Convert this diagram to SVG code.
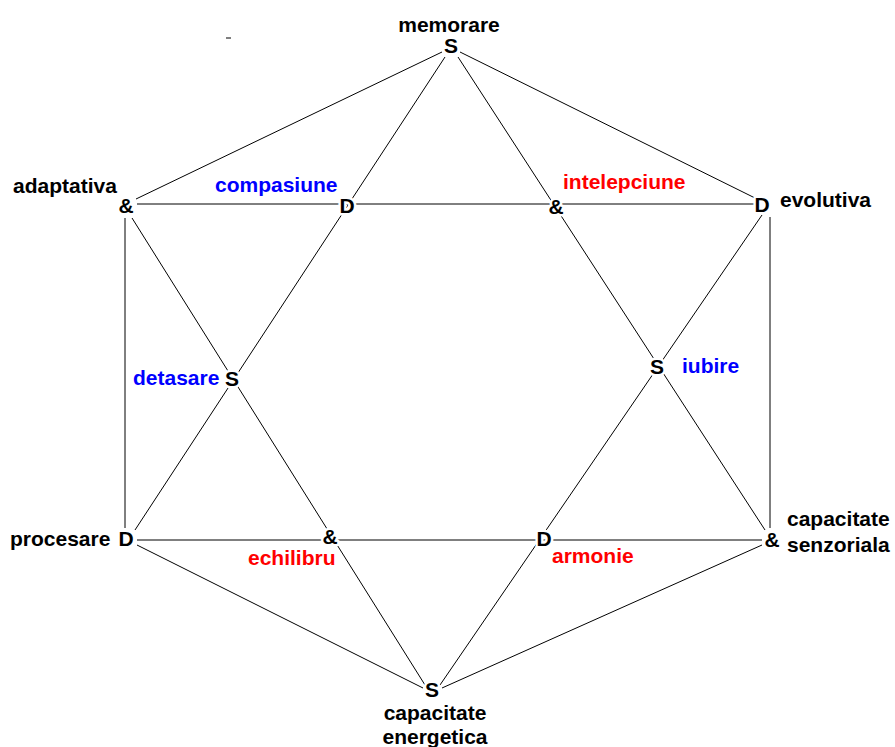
<svg xmlns="http://www.w3.org/2000/svg" width="895" height="747" viewBox="0 0 895 747">
<style>
text{font-family:"Liberation Sans",Arial,sans-serif;font-weight:bold;font-size:21px}
.lbl{fill:#000}
.blue{fill:#0000ff}
.red{fill:#ff0000}
.node{fill:#000;text-anchor:middle;stroke:#fff;stroke-width:5;paint-order:stroke;stroke-linejoin:round}
#connectors line{stroke:#000;stroke-width:1}
</style>
<rect width="895" height="747" fill="#fff"/>
<line x1="226" y1="38" x2="231" y2="38" stroke="#000" stroke-width="1"/>
<g id="connectors">
<line x1="442" y1="52" x2="136" y2="199"/>
<line x1="460" y1="52" x2="755" y2="198"/>
<line x1="125" y1="218" x2="125" y2="528"/>
<line x1="770" y1="217" x2="770" y2="528"/>
<line x1="137" y1="545" x2="423" y2="688"/>
<line x1="762" y1="545" x2="442" y2="688"/>
<line x1="137" y1="204" x2="755" y2="204"/>
<line x1="137" y1="540" x2="762" y2="540"/>
<line x1="445" y1="57" x2="135" y2="530"/>
<line x1="458" y1="57" x2="765" y2="530"/>
<line x1="132" y1="218" x2="425" y2="685"/>
<line x1="762" y1="215" x2="440" y2="685"/>
</g>
<g id="n-memorare"><text class="lbl" x="449" y="32" text-anchor="middle">memorare</text><text class="node" x="451" y="53">S</text></g>
<g id="n-adaptativa"><text class="lbl" x="13" y="193">adaptativa</text><text class="node" x="126" y="213">&amp;</text></g>
<g id="n-compasiune"><text class="blue" x="215" y="192">compasiune</text><text class="node" x="347" y="213">D</text></g>
<g id="n-intelepciune"><text class="red" x="563" y="189">intelepciune</text><text class="node" x="556" y="214">&amp;</text></g>
<g id="n-evolutiva"><text class="node" x="762" y="212">D</text><text class="lbl" x="780" y="207">evolutiva</text></g>
<g id="n-detasare"><text class="blue" x="133" y="385">detasare</text><text class="node" x="232" y="386">S</text></g>
<g id="n-iubire"><text class="node" x="657" y="374">S</text><text class="blue" x="682" y="373">iubire</text></g>
<g id="n-procesare"><text class="lbl" x="10" y="546">procesare</text><text class="node" x="126" y="546">D</text></g>
<g id="n-echilibru"><text class="node" x="330" y="544">&amp;</text><text class="red" x="248" y="565">echilibru</text></g>
<g id="n-armonie"><text class="node" x="544" y="546">D</text><text class="red" x="552" y="563">armonie</text></g>
<g id="n-senzoriala"><text class="node" x="772" y="547">&amp;</text><text class="lbl" x="787" y="526">capacitate</text><text class="lbl" x="787" y="552">senzoriala</text></g>
<g id="n-energetica"><text class="node" x="432" y="697">S</text><text class="lbl" x="435" y="720" text-anchor="middle">capacitate</text><text class="lbl" x="435" y="744" text-anchor="middle">energetica</text></g>
</svg>
